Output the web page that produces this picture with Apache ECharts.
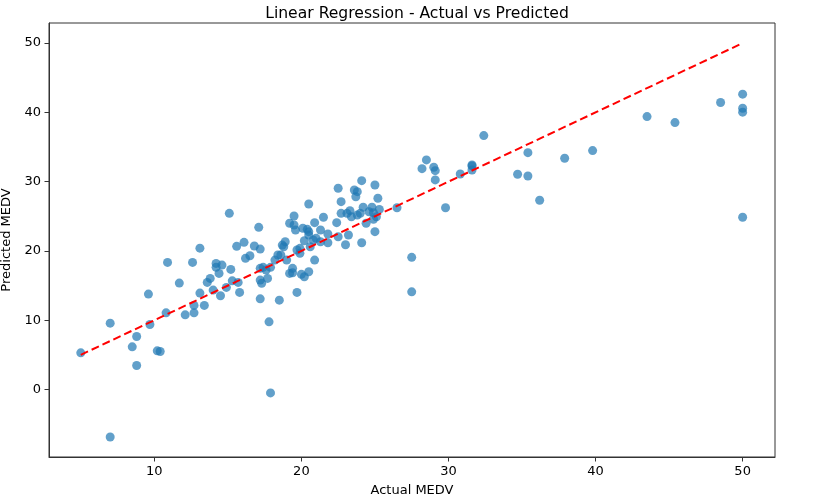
<!DOCTYPE html>
<html>
<head>
<meta charset="utf-8">
<script src="https://cdn.jsdelivr.net/npm/echarts@6/dist/echarts.min.js"></script>
<style>html,body{margin:0;padding:0;background:#fff}#c{width:823px;height:503px}</style>
</head>
<body>
<div id="c"></div>
<script>
// Actual MEDV (x) and predicted MEDV (y)
const actual = [5.0,7.0,7.0,8.8,8.5,8.8,9.6,9.7,10.2,10.4,10.8,10.9,11.7,12.1,12.6,12.7,12.7,13.1,13.1,13.4,13.6,13.8,
14.2,14.2,14.6,14.4,15.2,15.3,15.7,14.9,14.0,14.5,15.8,15.1,
15.6,16.1,16.2,16.5,16.8,17.2,17.1,
17.2,17.4,17.6,17.9,
17.2,17.3,17.7,
17.2,18.5,17.8,17.9,
18.2,18.4,18.6,18.8,18.9,18.7,19.0,
19.2,19.4,19.4,19.7,20.0,20.2,20.5,
19.2,19.5,19.5,19.6,20.1,20.4,20.5,20.2,19.9,19.7,19.9,20.6,
24.1,22.5,25.0,23.6,23.8,23.7,25.2,22.7,
24.2,24.8,25.3,24.6,24.0,23.8,23.3,23.1,22.7,23.4,24.9,25.1,
24.4,22.4,21.5,20.9,25.0,22.5,23.2,23.0,24.1,21.8,
20.5,21.3,21.0,21.3,20.8,20.5,21.8,
20.9,24.9,
26.5,27.5,27.5,28.5,28.2,29.0,29.1,29.1,30.8,31.6,31.6,31.6,29.8,32.4,
35.4,34.7,35.4,36.2,37.9,39.8,43.5,45.4,48.5,50,50,50,50];
const predicted = [5.29,9.58,-6.85,7.66,6.16,3.47,13.77,9.39,5.58,5.49,11.07,18.35,15.36,10.78,18.35,12.14,11.07,20.4,13.92,12.14,15.46,16.04,
18.2,17.63,17.96,16.76,17.34,15.69,15.46,14.74,14.35,13.53,14.02,25.43,
20.66,21.24,18.93,19.31,20.71,20.27,23.41,
17.49,17.63,17.24,17.63,
15.79,15.32,16.04,
13.09,12.9,9.77,-0.49,
18.68,19.41,19.41,20.6,21.33,20.85,18.68,
16.76,16.85,17.49,14.02,16.62,16.27,17.0,
23.99,25.04,23.74,23.02,23.27,23.12,26.78,21.47,20.38,20.13,19.65,20.6,
30.14,29.05,29.52,28.8,28.56,27.83,27.6,27.11,
26.3,26.3,26.0,25.66,25.43,25.19,25.81,25.43,25.43,24.94,25.52,24.94,
23.99,24.08,24.86,24.08,22.78,22.05,22.3,20.9,21.19,21.19,
22.78,23.02,21.82,21.33,21.58,22.3,22.44,
18.68,24.57,
26.24,19.08,14.1,33.14,31.88,32.08,31.59,30.25,31.11,32.41,32.27,31.69,26.24,36.65,
34.19,31.07,30.82,27.31,33.38,34.48,39.39,38.53,41.42,42.63,40.6,40.03,24.86];
// Perfect-prediction reference line endpoints (min/max of actual)
const refLine = [5, 50];
const xTicks = [10, 20, 30, 40, 50];
const yTicks = [0, 10, 20, 30, 40, 50];

const points = actual.map((v, i) => [v, predicted[i]]);
const font = 'DejaVu Sans';
const chart = echarts.init(document.getElementById('c'), null, {renderer: 'canvas'});
chart.setOption({
  animation: false,
  backgroundColor: '#fff',
  title: {
    text: 'Linear Regression - Actual vs Predicted',
    left: 412, top: 1, textAlign: 'center',
    textStyle: {fontFamily: font, fontSize: 15.6, fontWeight: 'normal', color: '#000'}
  },
  grid: {left: 49, right: 48, top: 23, bottom: 46, containLabel: false, outerBoundsMode: 'none',
         show: true, borderColor: '#333', borderWidth: 1, backgroundColor: 'transparent'},
  xAxis: {
    type: 'value', min: 2.84, max: 52.2,
    name: 'Actual MEDV', nameLocation: 'middle', nameGap: 27,
    nameTextStyle: {fontFamily: font, fontSize: 13, color: '#000'},
    splitLine: {show: false},
    axisLine: {show: true, onZero: false, lineStyle: {color: '#333', width: 1}},
    axisTick: {show: true, length: 4.5, lineStyle: {color: '#333'}, customValues: xTicks},
    axisLabel: {fontFamily: font, fontSize: 13, color: '#000', margin: 8, customValues: xTicks}
  },
  yAxis: {
    type: 'value', min: -9.74, max: 52.9,
    name: 'Predicted MEDV', nameLocation: 'middle', nameGap: 22,
    nameTextStyle: {fontFamily: font, fontSize: 13, color: '#000'},
    splitLine: {show: false},
    axisLine: {show: true, onZero: false, lineStyle: {color: '#333', width: 1}},
    axisTick: {show: true, length: 4.5, lineStyle: {color: '#333'}, customValues: yTicks},
    axisLabel: {fontFamily: font, fontSize: 13, color: '#000', margin: 8, customValues: yTicks}
  },
  series: [
    {
      type: 'scatter', data: points, symbolSize: 9,
      itemStyle: {color: '#1f77b4', opacity: 0.7},
      z: 2
    },
    {
      type: 'line', data: refLine.map(v => [v, v]), symbol: 'none',
      lineStyle: {color: '#ff0000', width: 2, type: [8, 4]},
      z: 3
    }
  ]
});
</script>
</body>
</html>
